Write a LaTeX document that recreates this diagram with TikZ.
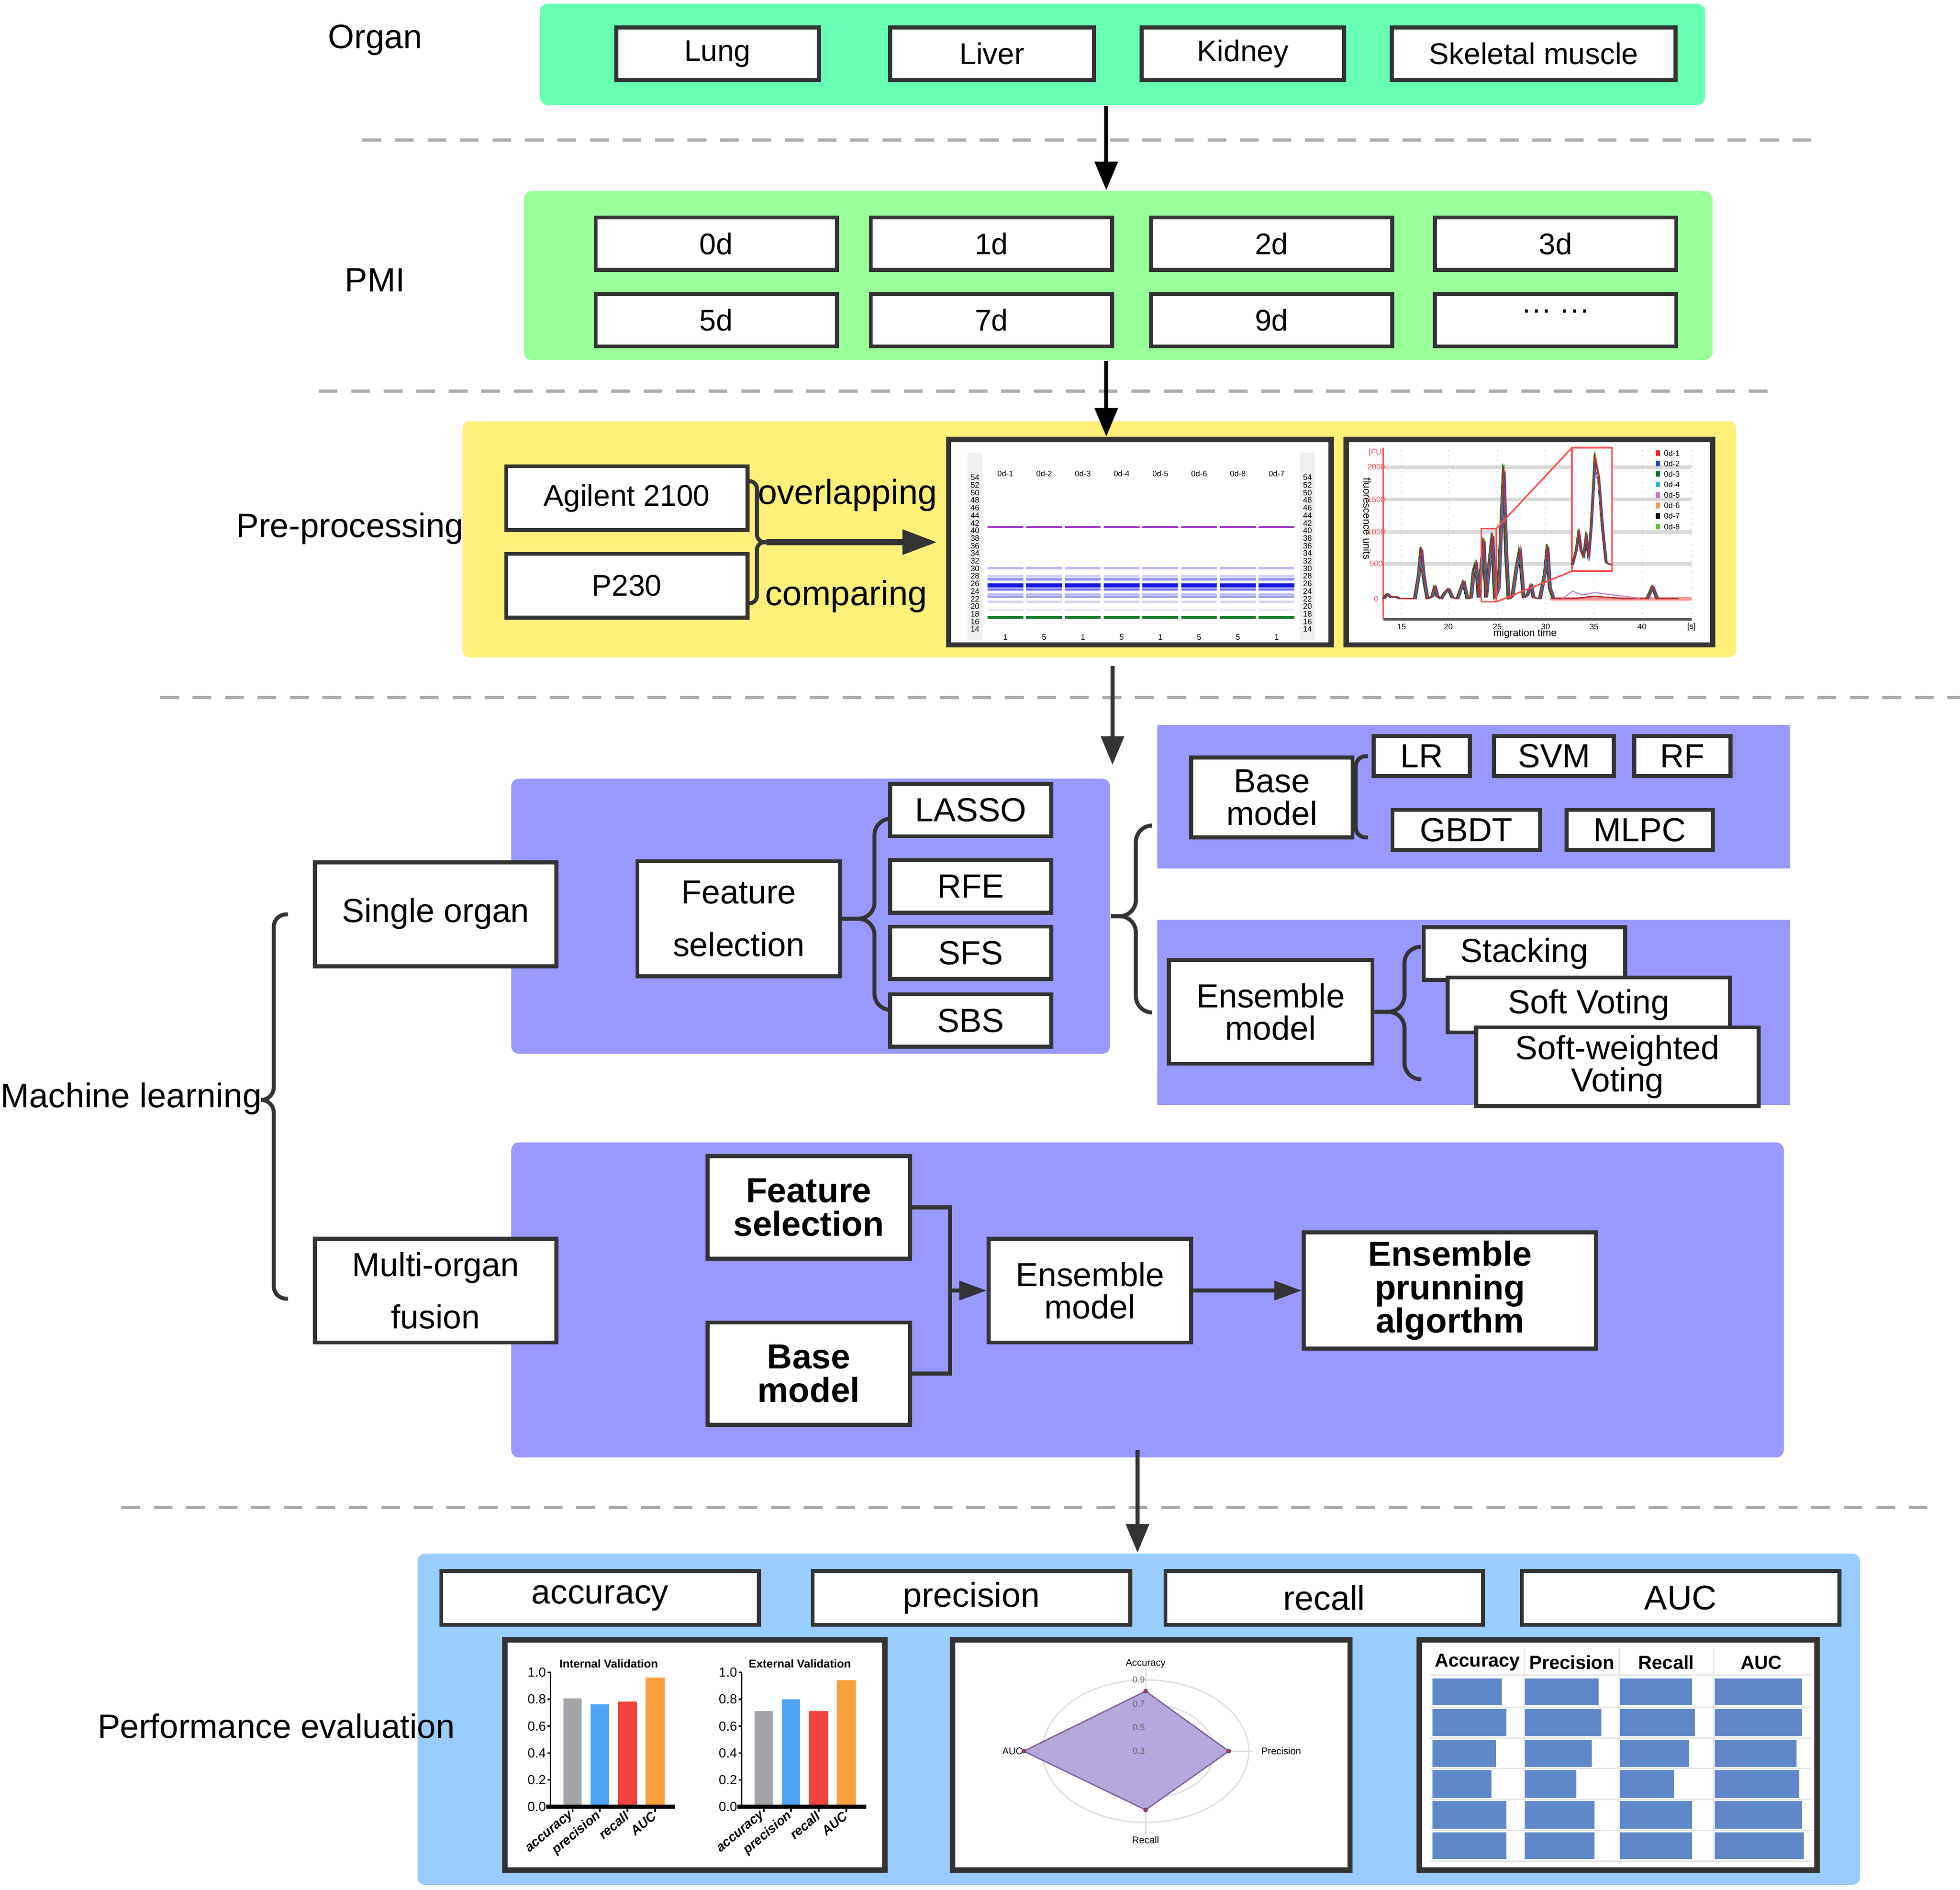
\documentclass[tikz,border=0pt]{standalone}
\usepackage{fontspec}
\setmainfont{Liberation Sans}
\usetikzlibrary{positioning,arrows.meta}

\definecolor{organgreen}{HTML}{66FFB3}
\definecolor{pmigreen}{HTML}{99FF99}
\definecolor{preyellow}{HTML}{FFF07A}
\definecolor{mlpurple}{HTML}{9999FF}
\definecolor{evalblue}{HTML}{99CCFF}
\definecolor{boxline}{HTML}{333333}
\definecolor{sepgray}{HTML}{ABABAB}
\definecolor{bandviolet}{HTML}{A040D0}
\definecolor{bandblue}{HTML}{1515E0}
\definecolor{bandgreen}{HTML}{108030}
\definecolor{tr1}{HTML}{E02020}
\definecolor{tr2}{HTML}{2050B0}
\definecolor{tr3}{HTML}{107030}
\definecolor{tr4}{HTML}{30B0E0}
\definecolor{tr5}{HTML}{C080C0}
\definecolor{tr6}{HTML}{F0A060}
\definecolor{tr7}{HTML}{101010}
\definecolor{tr8}{HTML}{60C030}
\definecolor{bargray}{HTML}{A3A3A8}
\definecolor{barblue}{HTML}{4FA3F5}
\definecolor{barred}{HTML}{F5413F}
\definecolor{barorange}{HTML}{FA9F3C}
\definecolor{radarfill}{HTML}{B5A8DA}
\definecolor{radarline}{HTML}{8060A0}
\definecolor{radardot}{HTML}{E0207A}
\definecolor{tabbar}{HTML}{6088C8}

\tikzset{
  wbox/.style={draw=boxline, line width=0.9pt, fill=white, inner sep=0pt, align=center,
    font=\fontsize{7.6}{7.4}\selectfont},
  topbox/.style={wbox, minimum height=4.2mm, font=\fontsize{6.8}{7}\selectfont},
  daybox/.style={topbox, minimum width=19.3mm},
  methbox/.style={wbox, minimum width=12.9mm, minimum height=4.2mm},
  modbox/.style={wbox, minimum height=3.2mm},
  fatbox/.style={wbox, font=\fontsize{7.9}{7.6}\selectfont\bfseries},
  metricbox/.style={wbox, minimum width=25.4mm, minimum height=4.3mm, font=\fontsize{7.8}{8}\selectfont},
  panel/.style={fill=#1, inner sep=0pt, rounded corners=0.6mm},
  picframe/.style={draw=boxline, line width=1.2pt, fill=white, inner sep=0pt, minimum height=16.45mm},
  sidelabel/.style={font=\fontsize{7.7}{8}\selectfont, inner sep=0pt},
  flow/.style={-{Triangle[length=2.3mm,width=1.8mm]}, line width=1pt},
  bigflow/.style={-{Triangle[length=2.8mm,width=1.9mm]}, line width=1.5pt, color=boxline},
  midflow/.style={-{Triangle[length=2.2mm,width=1.5mm]}, line width=0.9pt, color=boxline},
  brc/.style={draw=boxline, line width=0.9pt, rounded corners=1.3mm},
  conn/.style={draw=boxline, line width=0.9pt},
  sepline/.style={draw=sepgray, line width=0.7pt, dash pattern=on 1.5mm off 1.1mm},
  micro/.style={font=\fontsize{1.8}{2}\selectfont, inner sep=0pt},
}

\begin{document}
\begin{tikzpicture}[x=0.1mm, y=-0.1mm]
   \useasboundingbox (0,0) rectangle (1568,1512);

   % separators
   \draw[sepline] (290,112) -- (1455,112);
   \draw[sepline] (255,313) -- (1418,313);
   \draw[sepline] (128,558) -- (1568,558);
   \draw[sepline] (97,1206) -- (1545,1206);

   % organ
   \node[panel=organgreen, minimum width=93.2mm, minimum height=8.1mm] (organs) at (898,43.5) {};
   \node[sidelabel] (organlbl) at (300,32) {Organ};
   \node[topbox, minimum width=16.2mm] (lung) at (574,43) {Lung};
   \node[topbox, minimum width=16.3mm, right=5.4mm of lung] (liver) {Liver};
   \node[topbox, minimum width=16.2mm, right=3.5mm of liver] (kidney) {Kidney};
   \node[topbox, minimum width=22.7mm, right=3.5mm of kidney] (muscle) {Skeletal muscle};

   % PMI
   \node[panel=pmigreen, minimum width=95.1mm, minimum height=13.5mm] (pmi) at (894.5,220.5) {};
   \node[sidelabel] (pmilbl) at (300,224) {PMI};
   \node[daybox] (d0) at (573,195) {0d};
   \node[daybox, right=2.4mm of d0] (d1) {1d};
   \node[daybox, right=2.8mm of d1] (d2) {2d};
   \node[daybox, right=3.1mm of d2] (d3) {3d};
   \node[daybox, below=1.6mm of d0] (d5) {5d};
   \node[daybox, below=1.6mm of d1] (d7) {7d};
   \node[daybox, below=1.6mm of d2] (d9) {9d};
   \node[daybox, below=1.6mm of d3] (dmore) {\raisebox{0.9mm}{··· ···}};

   % pre-processing
   \node[panel=preyellow, minimum width=101.9mm, minimum height=18.9mm] (prep) at (879.5,431.5) {};
   \node[sidelabel] (prelbl) at (280,423) {Pre-processing};
   \node[topbox, minimum width=19.3mm, minimum height=5.1mm] (agilent) at (501.5,398.5) {Agilent 2100};
   \node[topbox, minimum width=19.3mm, minimum height=5.1mm, below=1.6mm of agilent] (p230) {P230};
   \node[picframe, minimum width=30.6mm] (gel) at (912,433.75) {};
   \node[picframe, minimum width=29.3mm] (ephero) at (1223.5,433.75) {};
   \node[font=\fontsize{7.9}{8}\selectfont] (overl) at (678,396) {overlapping};
   \node[font=\fontsize{7.9}{8}\selectfont] (compar) at (677,477) {comparing};
   \coordinate (pretip) at (613,433.75);
   \draw[brc, rounded corners=0.6mm] ([yshift=1.35mm]agilent.east) -- ++(6,0) |- (pretip);
   \draw[brc, rounded corners=0.6mm] ([yshift=-1.4mm]p230.east) -- ++(6,0) |- (pretip);
   \path[bigflow] (pretip) edge ([xshift=-0.7mm]gel.west);

   \coordinate (ax1) at (885,0);
   \path[flow]
     (organs.south -| ax1) edge (pmi.north -| ax1)
     (pmi.south -| ax1)    edge (gel.north -| ax1);

   % gel picture
   \fill[gray!12] (774,362) rectangle (786,512);
   \fill[gray!12] (1040,362) rectangle (1052,512);
   \foreach \k in {0,...,20} {
     \pgfmathtruncatemacro{\kd}{54-2*\k}
     \node[micro] at (780,{382+6.07*\k}) {\kd};
     \node[micro] at (1046,{382+6.07*\k}) {\kd};
   }
   \foreach \lab [count=\i from 0] in {0d-1,0d-2,0d-3,0d-4,0d-5,0d-6,0d-8,0d-7} {
     \node[micro] at ({804.3+31*\i},378.8) {\lab};
   }
   \foreach \n [count=\i from 0] in {1,5,1,5,1,5,5,1} {
     \node[micro] at ({804.3+31*\i},509.7) {\n};
   }
   \foreach \i in {0,...,7} {
     \foreach \by/\bc/\bw in {421.6/bandviolet/0.45, 454.6/bandblue!30/0.5, 461/bandblue!20/0.6,
         463.5/bandblue!45/0.6, 468.3/bandblue/0.9, 471.6/bandblue!60/0.5, 475.5/bandblue!30/0.5,
         477.5/bandblue!40/0.4, 481.5/bandblue!18/0.5, 488/bandblue!10/0.5, 494/bandgreen/0.6} {
       \draw[\bc, line width=\bw pt] ({790+31*\i},\by) -- ({818.5+31*\i},\by);
     }
   }

   % electropherogram
   \foreach \gy in {373.7,399.6,425.6,451.1} {
     \draw[gray!30, line width=0.8pt] (1106.6,\gy) -- (1353.5,\gy);
   }
   \foreach \gx in {1121.2,1158.7,1197.8,1236.5,1275.3,1313.6,1353.2} {
     \draw[gray!45, line width=0.2pt, densely dotted] (\gx,360) -- (\gx,495);
   }
   \draw[gray!70!black, line width=0.6pt] (1106.6,495.4) -- (1353.5,495.4);
   \draw[red!70, line width=0.3pt] (1106.6,358) -- (1106.6,495.4);
   \draw[red!40, line width=0.8pt] (1240,479.2) -- (1353.5,479.2);
   \foreach \yl/\yv in {[FU]/362, 2000/373.7, 1500/399.6, 1000/425.6, 500/451.1, 0/479.2} {
     \node[micro, text=red!70] at (1101,\yv) {\yl};
   }
   \foreach \xl/\xv in {15/1121.2, 20/1158.7, 25/1197.8, 30/1236.5, 35/1275.3, 40/1313.6, [s]/1353.2} {
     \node[micro] at (\xv,501.5) {\xl};
   }
   \node[micro, font=\fontsize{2.3}{2.5}\selectfont] at (1220,507) {migration time};
   \node[micro, font=\fontsize{2.3}{2.5}\selectfont, rotate=-90] at (1093.7,415) {fluorescence units};
   \foreach \tc/\ts/\tx in {tr8/1.01/0.2, tr7/0.94/-1.2, tr6/0.97/1.2, tr5/0.9/-0.6,
       tr4/0.93/0.6, tr3/1.02/-0.9, tr2/0.96/1, tr1/1/0} {
     \begin{scope}[shift={(\tx,479.2)}, yscale=\ts, shift={(0,-479.2)}]
       \draw[\tc, line width=0.22pt] plot coordinates {(1107,479) (1110,475) (1113,478) (1116,477)
         (1120,479) (1132,479) (1135,460) (1137,438) (1139,460) (1142,479) (1146,477) (1148,469)
         (1150,477) (1153,479) (1156,474) (1159,471) (1162,478) (1166,479) (1169,470) (1171,465)
         (1174,479) (1177,478) (1179,456) (1181,450) (1183,478) (1185,455) (1187,431) (1189,478)
         (1192,445) (1194,427) (1196,478) (1199,470) (1201,420) (1203,373) (1205,440) (1207,479)
         (1210,477) (1213,455) (1216,439) (1219,478) (1222,476) (1225,468) (1227,478) (1232,479)
         (1236,458) (1238,436) (1240,470) (1243,479) (1260,479) (1275,477) (1300,479) (1318,479)
         (1322,469) (1326,479) (1342,479)};
     \end{scope}
   }
   \draw[tr5, line width=0.25pt] (1250,479) -- (1258,473) -- (1266,476) -- (1276,474) -- (1290,476) -- (1300,477) -- (1312,479);
   \draw[red!70, line width=0.35pt] (1185,423) rectangle (1197,481.5);
   \filldraw[fill=white, draw=red!70, line width=0.35pt] (1257.5,358.2) rectangle (1289.6,457);
   \draw[red!70, line width=0.35pt] (1197,423) -- (1257.5,358.2) (1197,481.5) -- (1257.5,457);
   \foreach \tc/\ts/\tx in {tr8/1.01/0.3, tr7/0.94/-0.8, tr6/0.97/0.8, tr5/0.9/-0.4,
       tr4/0.93/0.5, tr3/1.02/-0.6, tr2/0.96/0.7, tr1/1/0} {
     \begin{scope}[shift={(\tx,452)}, yscale=\ts, shift={(0,-452)}]
       \draw[\tc, line width=0.22pt] plot coordinates {(1258,452) (1261,440) (1263,425) (1265,440)
         (1267,445) (1269,428) (1271,445) (1273,420) (1276,365) (1279,380) (1282,420) (1285,450) (1289,452)};
     \end{scope}
   }
   \foreach \lc [count=\i] in {tr1,tr2,tr3,tr4,tr5,tr6,tr7,tr8} {
     \fill[\lc] (1324.5,{351.8+8.4*\i}) rectangle ++(3.5,4.5);
     \node[micro, anchor=west] at (1330.5,{354.1+8.4*\i}) {0d-\i};
   }

   \coordinate (ax3) at (890,533);
   \coordinate (mlin) at (890,612);
   \path[flow, color=boxline] (ax3) edge (mlin);

   % machine learning
   \node[sidelabel, font=\fontsize{7.8}{8}\selectfont] (mllbl) at (105,879) {Machine learning};
   \coordinate (mltip) at (211,880);
   \node[panel=mlpurple, minimum width=47.9mm, minimum height=22mm] (blk1) at (648.5,733) {};
   \node[panel=mlpurple, sharp corners, minimum width=50.6mm, minimum height=11.5mm] (blk2) at (1179,637.5) {};
   \node[panel=mlpurple, sharp corners, minimum width=50.6mm, minimum height=14.8mm] (blk3) at (1179,810) {};
   \node[panel=mlpurple, minimum width=101.8mm, minimum height=25.2mm] (blk4) at (918,1040) {};

   \node[wbox, minimum width=19.3mm, minimum height=8.3mm] (single) at (348.5,731.5) {\raisebox{0.65mm}{Single organ}};
   \node[wbox, minimum width=19.3mm, minimum height=8.3mm] (multi) at (348.5,1032.5) {Multi-organ\\[1.6mm]fusion};
   \draw[brc, rounded corners=1mm] (mltip) -- ++(8,0) |- ([xshift=-2mm]single.west);
   \draw[brc, rounded corners=1mm] (mltip) -- ++(8,0) |- ([xshift=-2mm,yshift=-0.65mm]multi.west);

   % single organ
   \node[wbox, minimum width=16.2mm, minimum height=9.2mm] (fsel) at (591,735) {Feature\\[1.6mm]selection};
   \node[methbox] (lasso) at (776.5,648) {LASSO};
   \node[methbox, below=1.6mm of lasso] (rfe) {RFE};
   \node[methbox, below=0.8mm of rfe] (sfs) {SFS};
   \node[methbox, below=0.9mm of sfs] (sbs) {SBS};
   \draw[brc] (fsel.east) -- ++(26,0) |- ([yshift=-0.7mm]lasso.west);
   \draw[brc] (fsel.east) -- ++(26,0) |- ([yshift=0.85mm]sbs.west);
   \draw[brc] (blk1.east) -- ++(20,0) |- ([xshift=-0.4mm,yshift=-2.3mm]blk2.west);
   \draw[brc] (blk1.east) -- ++(20,0) |- ([xshift=-0.4mm]blk3.west);

   % base models
   \node[wbox, minimum width=12.9mm, minimum height=6.4mm] (base1) at (1017.5,638) {Base\\model};
   \node[modbox, minimum width=7.7mm] (lr) at (1137.5,605) {LR};
   \node[modbox, minimum width=9.6mm, right=1.6mm of lr] (svm) {SVM};
   \node[modbox, minimum width=7.7mm, right=1.3mm of svm] (rf) {RF};
   \node[modbox, minimum width=11.8mm] (gbdt) at (1173,664) {GBDT};
   \node[modbox, minimum width=11.7mm, right=1.8mm of gbdt] (mlpc) {MLPC};
   \draw[brc, rounded corners=0.8mm] ([xshift=-0.3mm]lr.west) -| ([xshift=0.1mm]base1.east)
     |- ([xshift=-1.8mm,yshift=-0.6mm]gbdt.west);

   % ensemble models
   \node[wbox, minimum width=16.3mm, minimum height=8.3mm] (ens1) at (1016.5,809.5) {Ensemble\\model};
   \node[wbox, minimum width=16.1mm, minimum height=4.2mm] (stack) at (1219.5,763) {Stacking};
   \node[wbox, minimum width=22.6mm, minimum height=4.4mm] (softv) at (1271,804) {Soft Voting};
   \node[wbox, minimum width=22.6mm, minimum height=6.3mm] (softw) at (1294,853.5) {Soft-weighted\\Voting};
   \coordinate (swarm) at (1137,863.4);
   \draw[brc] (ens1.east) -- ++(24,0) |- ([xshift=-0.2mm,yshift=0.55mm]stack.west);
   \draw[brc] (ens1.east) -- ++(24,0) |- (swarm);

   % multi-organ fusion
   \node[fatbox, minimum width=16.2mm, minimum height=8.2mm] (fsel2) at (647,966) {Feature\\selection};
   \node[fatbox, minimum width=16.2mm, minimum height=8.2mm] (base2) at (647,1099) {Base\\model};
   \node[wbox, minimum width=16.2mm, minimum height=8.3mm] (ens2) at (872,1032.5) {Ensemble\\model};
   \node[fatbox, minimum width=23.4mm, minimum height=9.3mm] (prune) at (1160,1032.5) {Ensemble\\prunning\\algorthm};
   \coordinate (jn) at (760,1032.5);
   \draw[conn] (fsel2.east) -| (jn) |- (base2.east);
   \path[midflow]
     (jn)   edge (ens2)
     (ens2) edge (prune);

   % performance evaluation
   \node[panel=evalblue, minimum width=115.4mm, minimum height=26.5mm] (evalbox) at (911,1375.5) {};
   \coordinate (ax4) at (910,1160);
   \path[flow, color=boxline] (ax4) edge (ax4 |- evalbox.north);
   \node[sidelabel] (evallbl) at (221,1381) {Performance evaluation};
   \node[metricbox] (acc) at (480,1278.5) {accuracy};
   \node[metricbox, right=4mm of acc] (prec) {precision};
   \node[metricbox, right=2.5mm of prec] (rec) {recall};
   \node[metricbox, right=2.8mm of rec] (auc) {AUC};
   \node[picframe, minimum width=30.4mm, minimum height=18.4mm] (barfr) at (556,1404) {};
   \node[picframe, minimum width=31.8mm, minimum height=18.4mm] (radarfr) at (921,1404) {};
   \node[picframe, minimum width=31.8mm, minimum height=18.4mm] (tabfr) at (1294.5,1404) {};

   % bar charts
   \foreach \ax/\ttl/\va/\vb/\vc/\vd in {440.5/Internal Validation/0.806/0.7625/0.784/0.9625,
       593.4/External Validation/0.7125/0.8/0.7125/0.941} {
     \fill[bargray]   ({\ax+10.4},1445.5) rectangle ({\ax+24.8},{1445.5-107.5*\va});
     \fill[barblue]   ({\ax+32},1445.5)   rectangle ({\ax+46.6},{1445.5-107.5*\vb});
     \fill[barred]    ({\ax+54},1445.5)   rectangle ({\ax+69},{1445.5-107.5*\vc});
     \fill[barorange] ({\ax+76},1445.5)   rectangle ({\ax+91.3},{1445.5-107.5*\vd});
     \draw[line width=0.35pt] (\ax,1338) -- (\ax,1445.5);
     \draw[line width=0.9pt] ({\ax-3.5},1445.5) -- ({\ax+99.5},1445.5);
     \foreach \t/\tl in {0/0.0,1/0.2,2/0.4,3/0.6,4/0.8,5/1.0} {
       \draw[line width=0.35pt] ({\ax-2.5},{1445.5-21.5*\t}) -- (\ax,{1445.5-21.5*\t});
       \node[micro, font=\fontsize{3}{3}\selectfont, anchor=east] at ({\ax-3},{1445.5-21.5*\t}) {\tl};
     }
     \foreach \lab/\off in {accuracy/17.6, precision/39.3, recall/61.5, AUC/83.6} {
       \draw[line width=0.35pt] ({\ax+\off},1445.5) -- ({\ax+\off},1449.5);
       \node[micro, font=\fontsize{3}{3.2}\selectfont\bfseries\itshape, rotate=40, anchor=east]
         at ({\ax+\off},1451) {\lab};
     }
     \node[micro, font=\fontsize{2.6}{3}\selectfont\bfseries] at ({\ax+46.5},1331) {\ttl};
   }

   % radar chart
   \foreach \r in {1,2,3} {
     \draw[gray!25, line width=0.3pt] (916.5,1401) circle [x radius={\r*2.75mm}, y radius={\r*1.9mm}];
   }
   \draw[gray!25, line width=0.3pt] (916.5,1335) -- (916.5,1467) (831,1401) -- (1002,1401);
   \filldraw[fill=radarfill, draw=radarline, line width=0.3pt]
     (916.5,1353) -- (983,1401) -- (916.5,1448) -- (819,1401) -- cycle;
   \foreach \p in {(916.5,1353),(983,1401),(916.5,1448),(819,1401)} {
     \filldraw[fill=radardot, draw=black!70, line width=0.2pt] \p circle [radius=0.15mm];
   }
   \foreach \rl/\ry in {0.9/1344, 0.7/1363, 0.5/1382, 0.3/1401} {
     \node[micro, font=\fontsize{2}{2}\selectfont, text=black!60] at (911,\ry) {\rl};
   }
   \node[micro, font=\fontsize{2.2}{2.4}\selectfont] at (916.5,1331) {Accuracy};
   \node[micro, font=\fontsize{2.2}{2.4}\selectfont] at (1025,1401) {Precision};
   \node[micro, font=\fontsize{2.2}{2.4}\selectfont] at (916.5,1472) {Recall};
   \node[micro, font=\fontsize{2.2}{2.4}\selectfont] at (810,1401) {AUC};

   % table
   \foreach \cx in {1219.5,1295.5,1371} {
     \draw[gray!20, line width=0.3pt] (\cx,1318) -- (\cx,1490);
   }
   \foreach \ry in {1340,1365.8,1390.6,1415,1439.5,1464.5,1489} {
     \draw[gray!20, line width=0.3pt] (1144,\ry) -- (1449,\ry);
   }
   \foreach \hl/\hx in {Accuracy/1182, Precision/1257.5, Recall/1333, AUC/1409} {
     \node[micro, font=\fontsize{4.3}{4.5}\selectfont\bfseries] at (\hx,1330) {\hl};
   }
   \foreach \ya/\yb/\wa/\wb/\wc/\wd in {1342.7/1364.3/55.6/59/57.7/69.5, 1367.2/1389.1/59/61/59.8/69.5,
       1392.2/1413.7/50.7/53.5/55/65.3, 1416.3/1438.2/47.3/41/43/67.4,
       1440.9/1463.1/59/55.6/57.7/69.5, 1465.8/1487.3/59/55.6/57.7/70.9} {
     \fill[tabbar] (1146,\ya) rectangle ({1146+\wa},\yb);
     \fill[tabbar] (1220,\ya) rectangle ({1220+\wb},\yb);
     \fill[tabbar] (1296,\ya) rectangle ({1296+\wc},\yb);
     \fill[tabbar] (1372,\ya) rectangle ({1372+\wd},\yb);
   }
\end{tikzpicture}
\end{document}
